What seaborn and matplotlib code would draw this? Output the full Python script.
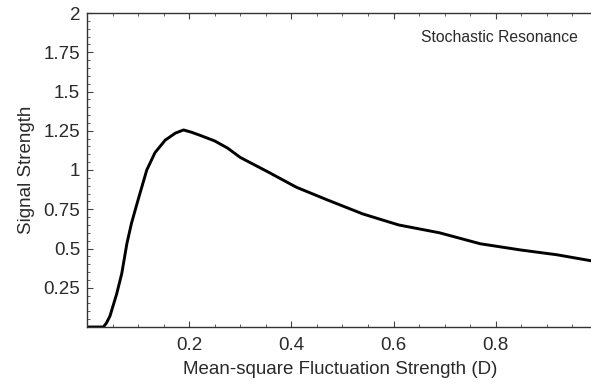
import matplotlib
matplotlib.use("Agg")
import matplotlib.pyplot as plt
import seaborn as sns
import pandas as pd
from matplotlib.ticker import MultipleLocator, FixedLocator, FuncFormatter

D = [0.0, 0.032, 0.038, 0.045, 0.058, 0.068, 0.078, 0.087, 0.100, 0.117,
     0.133, 0.153, 0.173, 0.189, 0.205, 0.222, 0.250, 0.275, 0.300,
     0.353, 0.410, 0.470, 0.540, 0.610, 0.690, 0.770, 0.850, 0.920, 0.990]
S = [0.0, 0.0, 0.025, 0.07, 0.21, 0.34, 0.53, 0.66, 0.81, 1.00,
     1.11, 1.19, 1.235, 1.255, 1.24, 1.22, 1.185, 1.14, 1.08,
     0.99, 0.89, 0.81, 0.72, 0.65, 0.60, 0.53, 0.49, 0.46, 0.42]
x_ticks = [0.2, 0.4, 0.6, 0.8]
y_ticks = [0.25, 0.5, 0.75, 1.0, 1.25, 1.5, 1.75, 2.0]
x_label = "Mean-square Fluctuation Strength (D)"
y_label = "Signal Strength"
annotation = "Stochastic Resonance"

sns.set_style("white")
plt.rcParams['font.family'] = ['Liberation Sans', 'DejaVu Sans']
txt = "#2a2a2a"

df = pd.DataFrame({"D": D, "S": S})
fig = plt.figure(figsize=(5.91, 3.84), dpi=100)
ax = fig.add_axes([87/591, 1-327/384, 1-87/591+0.003, (327-13)/384])
sns.lineplot(data=df, x="D", y="S", ax=ax, color="black", linewidth=2.1, sort=False)

ax.set_xlim(0, 0.99)
ax.set_ylim(0, 2)
ax.xaxis.set_major_locator(FixedLocator(x_ticks))
ax.yaxis.set_major_locator(FixedLocator(y_ticks))
ax.xaxis.set_minor_locator(MultipleLocator(0.05))
ax.yaxis.set_minor_locator(MultipleLocator(0.05))
fmt = FuncFormatter(lambda v, p: ("%g" % round(v, 3)))
ax.xaxis.set_major_formatter(fmt)
ax.yaxis.set_major_formatter(fmt)
ax.tick_params(which='both', direction='in', top=True, right=False, bottom=True, left=True,
               colors="#444444", labelcolor=txt, labelsize=13.5)
ax.tick_params(axis='x', which='major', pad=7)
ax.tick_params(axis='y', which='major', pad=5)
ax.tick_params(which='major', length=4, width=0.8)
ax.tick_params(which='minor', length=2, width=0.6)
for s in ["top", "bottom", "left"]:
    ax.spines[s].set_color("#333333")
    ax.spines[s].set_linewidth(1.0)
ax.spines["right"].set_visible(False)
ax.set_xlabel(x_label, fontsize=13.5, color=txt, labelpad=5)
ax.set_ylabel(y_label, fontsize=13.5, color=txt, labelpad=6)
ax.text(578/591, 1 - 37/384, annotation, transform=fig.transFigure,
        ha="right", va="center", fontsize=11.3, color=txt)

fig.savefig("out.png", dpi=100)
